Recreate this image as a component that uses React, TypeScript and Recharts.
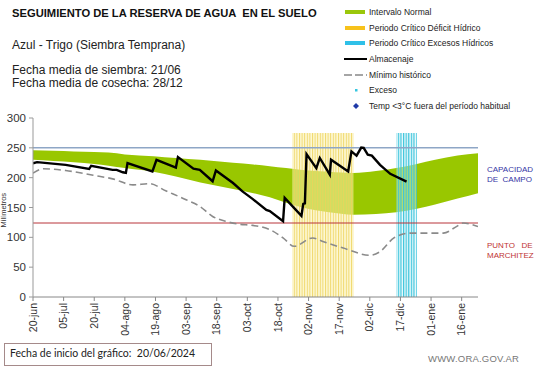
import React from 'react'
import {
  ComposedChart, Area, Line, XAxis, YAxis, ReferenceLine,
} from 'recharts'

// days counted from 20/06/2024
const tickDays = [0, 15, 30, 45, 60, 75, 90, 105, 120, 135, 150, 165, 180, 195, 210]
const tickLabels = ['20-jun', '05-jul', '20-jul', '04-ago', '19-ago', '03-sep', '18-sep', '03-oct', '18-oct', '02-nov', '17-nov', '02-dic', '17-dic', '01-ene', '16-ene']

// intervalo normal
const bandDays = [0, 10, 20, 30, 37, 45, 59, 70, 82, 98, 108, 116, 124, 132, 145, 157, 168, 178, 188, 197, 208, 218]
const bandHigh = [246, 245, 244, 243, 242, 239, 236, 233, 230, 225, 222, 219, 216, 213, 210, 208, 211, 216, 223, 230, 237, 241]
const bandLow = [230, 228, 226, 223, 220, 216, 210, 202, 192, 181, 174, 167, 158, 150, 142, 138, 139, 142, 148, 155, 165, 174]

// almacenaje
const almDays = [0, 2, 16, 27.5, 28.5, 39, 41, 44, 45.5, 46.3, 58.5, 60.5, 70, 71, 78.6, 81.7, 88, 89.6, 98, 102.6, 107.7, 114.3, 116, 122.5, 123.3, 131.5, 132.4, 133.2, 134, 138.8, 140.5, 145.4, 146, 154.4, 156, 158.5, 160.8, 162, 164, 166, 170, 175, 183]
const almValues = [224, 226, 221.5, 214.5, 220, 213, 213, 209, 208, 224.5, 210.5, 230, 217, 234.5, 215, 213, 194, 212, 191, 177, 164, 146, 144, 127, 166, 136, 156, 157, 239.5, 216, 233, 205, 230, 210.5, 244, 237, 250.5, 250, 238.5, 237, 221.5, 206.5, 193.5]

// minimo historico
const minDays = [0, 5, 16, 29.5, 39, 49, 57, 65, 75, 81.7, 88, 94.7, 101, 107.7, 116, 122.5, 128, 137, 142, 152, 165, 170, 176.8, 184.5, 191, 201, 207.4, 210.6, 218]
const minValues = [207.5, 215, 212, 204, 198, 188, 190, 178, 163, 152, 135, 126.5, 122, 120, 113, 99, 85, 99, 93, 82, 70, 76, 99, 107, 107, 107, 118, 124, 118]

// periodos criticos
const deficitPeriod = [127, 157]
const excesoPeriod = [178, 188]
const periodTop = 275

const capacidadCampo = 250
const puntoMarchitez = 124

const bandData = bandDays.map((day, i) => ({ day, lo: bandLow[i], hi: bandHigh[i] }))
const almData = almDays.map((day, i) => ({ day, v: almValues[i] }))
const minData = minDays.map((day, i) => ({ day, v: minValues[i] }))
const deficitData = deficitPeriod.map((day) => ({ day, v: periodTop }))
const excesoData = excesoPeriod.map((day) => ({ day, v: periodTop }))

const font = '"Liberation Sans", Arial, sans-serif'

const DateTick = (props: any) => {
  const { x, y, payload } = props
  const idx = tickDays.indexOf(payload.value)
  return (
    <text x={x} y={y} transform={`rotate(-90, ${x}, ${y})`} textAnchor="end" dy="0.35em"
      fontSize={10.5} fill="#333" fontFamily={font}>
      {tickLabels[idx]}
    </text>
  )
}

const legendItems = [
  { label: 'Intervalo Normal', kind: 'bar', color: '#9ac70a' },
  { label: 'Periodo Crítico Déficit Hídrico', kind: 'bar', color: '#f7c21b' },
  { label: 'Periodo Crítico Excesos Hídricos', kind: 'bar', color: '#2fc0e8' },
  { label: 'Almacenaje', kind: 'line', color: '#000' },
  { label: 'Mínimo histórico', kind: 'dash', color: '#888' },
  { label: 'Exceso', kind: 'dot', color: '#35c6e0' },
  { label: 'Temp <3°C fuera del período habitual', kind: 'diamond', color: '#1f3aa8' },
]

function LegendIcon({ kind, color }: { kind: string; color: string }) {
  return (
    <svg width={24} height={8} style={{ display: 'block' }}>
      {kind === 'bar' && <rect x={1} y={2} width={20} height={4} fill={color} />}
      {kind === 'line' && <line x1={0} y1={4} x2={23} y2={4} stroke={color} strokeWidth={2} />}
      {kind === 'dash' && <line x1={0} y1={4} x2={23} y2={4} stroke={color} strokeWidth={1.5} strokeDasharray="8 3" />}
      {kind === 'dot' && <rect x={11} y={3} width={2.5} height={2.5} fill={color} />}
      {kind === 'diamond' && <polygon points="12,1 15,4 12,7 9,4" fill={color} />}
    </svg>
  )
}

export default function App() {
  return (
    <div style={{ position: 'absolute', left: 0, top: 0, width: 541, height: 368, background: '#fff', fontFamily: font, overflow: 'hidden' }}>
      <div style={{ position: 'absolute', left: 12, top: 7, fontSize: 11.2, fontWeight: 'bold', color: '#111', whiteSpace: 'pre' }}>
        SEGUIMIENTO DE LA RESERVA DE AGUA  EN EL SUELO
      </div>
      <div style={{ position: 'absolute', left: 12, top: 38, fontSize: 12, color: '#222' }}>
        Azul - Trigo (Siembra Temprana)
      </div>
      <div style={{ position: 'absolute', left: 12, top: 64, fontSize: 12, color: '#222', lineHeight: '13px' }}>
        Fecha media de siembra: 21/06<br />Fecha media de cosecha: 28/12
      </div>

      <div style={{ position: 'absolute', left: 344, top: 4 }}>
        {legendItems.map((it) => (
          <div key={it.label} style={{ display: 'flex', alignItems: 'center', height: 15.7, fontSize: 8.5, color: '#222' }}>
            <LegendIcon kind={it.kind} color={it.color} />
            <span style={{ marginLeft: 1 }}>{it.label}</span>
          </div>
        ))}
      </div>

      <ComposedChart width={541} height={368} margin={{ top: 118, right: 63, bottom: 0, left: 0 }}
        style={{ position: 'absolute', left: 0, top: 0 }}>
        <defs>
          <pattern id="deficitStripes" width={2.6} height={10} patternUnits="userSpaceOnUse">
            <rect x={0} y={0} width={2.6} height={10} fill="#fbf1b0" fillOpacity={0.55} />
            <rect x={0} y={0} width={1} height={10} fill="#eed35a" fillOpacity={0.85} />
          </pattern>
          <pattern id="excesoStripes" width={2.6} height={10} patternUnits="userSpaceOnUse">
            <rect x={0} y={0} width={2.6} height={10} fill="#d2f4f8" fillOpacity={0.45} />
            <rect x={0} y={0} width={1.2} height={10} fill="#3cc4dc" />
          </pattern>
        </defs>
        <XAxis type="number" dataKey="day" domain={[0, 218]} ticks={tickDays} interval={0}
          height={71} tick={<DateTick />} tickSize={4} tickMargin={2}
          axisLine={{ stroke: '#888' }} tickLine={{ stroke: '#888' }} allowDataOverflow />
        <YAxis type="number" domain={[0, 300]} ticks={[0, 50, 100, 150, 200, 250, 300]} width={33}
          tickSize={4} tickMargin={3} axisLine={{ stroke: '#999' }} tickLine={{ stroke: '#999' }}
          tick={{ fontSize: 11.5, fill: '#333', fontFamily: font }}
          label={{ value: 'Milímetros', angle: -90, position: 'insideLeft', offset: 3, dy: 20, fontSize: 7.5, fill: '#333' }} />
        <Area data={bandData} dataKey={(d: any) => [d.lo, d.hi]} type="monotone" stroke="none"
          fill="#99c700" fillOpacity={1} isAnimationActive={false} />
        <Area data={deficitData} dataKey="v" type="linear" stroke="none" fill="url(#deficitStripes)"
          fillOpacity={1} isAnimationActive={false} />
        <Area data={excesoData} dataKey="v" type="linear" stroke="none" fill="url(#excesoStripes)"
          fillOpacity={1} isAnimationActive={false} />
        <ReferenceLine y={capacidadCampo} stroke="#8ea6c6" strokeWidth={1.5} />
        <ReferenceLine y={puntoMarchitez} stroke="#b8343a" strokeWidth={1} />
        <Line data={minData} dataKey="v" type="monotone" stroke="#8a8a8a" strokeWidth={1.6}
          strokeDasharray="7 4" dot={false} isAnimationActive={false} />
        <Line data={almData} dataKey="v" type="linear" stroke="#000" strokeWidth={2.4}
          dot={false} isAnimationActive={false} />
      </ComposedChart>

      <div style={{ position: 'absolute', left: 487, top: 165, fontSize: 8, color: '#3535a5', lineHeight: '10px', whiteSpace: 'pre' }}>
        CAPACIDAD{'\n'}DE  CAMPO
      </div>
      <div style={{ position: 'absolute', left: 487, top: 241, fontSize: 8, color: '#c03434', lineHeight: '10px', whiteSpace: 'pre' }}>
        PUNTO   DE{'\n'}MARCHITEZ
      </div>

      <div style={{ position: 'absolute', left: 4, top: 343, width: 208, height: 23, border: '1px solid #a58a8a', boxSizing: 'border-box' }} />
      <div style={{ position: 'absolute', left: 10, top: 347, fontSize: 10.5, color: '#222', fontFamily: 'Lato, sans-serif', whiteSpace: 'pre' }}>
        Fecha de inicio del gráfico:  20/06/2024
      </div>
      <div style={{ position: 'absolute', left: 428, top: 353, fontSize: 9.5, color: '#777', letterSpacing: 0.2 }}>
        WWW.ORA.GOV.AR
      </div>
    </div>
  )
}
